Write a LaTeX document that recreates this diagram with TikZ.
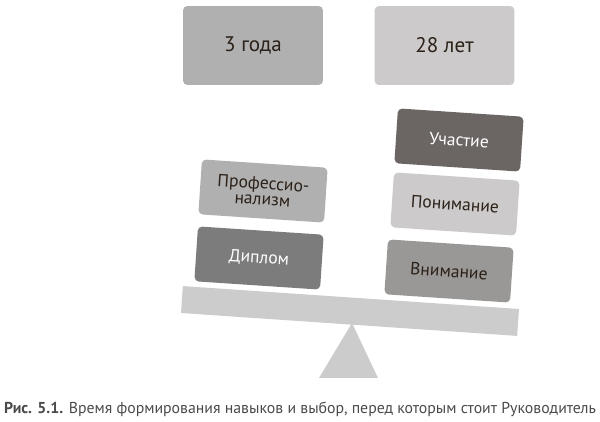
\documentclass[tikz,border=0pt]{standalone}
\usepackage{fontspec}
\setmainfont{PT Sans}
\usepackage{tikz}
\usetikzlibrary{positioning}

\definecolor{boxlight}{HTML}{B0B0B0}
\definecolor{boxpale}{HTML}{CCCACA}
\definecolor{boxdark}{HTML}{7C7C7C}
\definecolor{boxdeep}{HTML}{6B6563}
\definecolor{boxmid}{HTML}{9A9897}
\definecolor{beamgray}{HTML}{CCCCCC}
\definecolor{inkbrown}{HTML}{2B2118}
\definecolor{captiongray}{HTML}{4A4A4A}

\tikzset{
  topbox/.style={rounded corners=2.5pt, minimum width=2.8cm, minimum height=1.58cm,
    text=inkbrown, font=\fontsize{12}{14}\selectfont},
  weightbox/.style={rounded corners=2.5pt, minimum width=2.52cm, minimum height=1.1cm,
    rotate=-3.8, align=center, inner sep=0pt, font=\fontsize{10}{9}\selectfont},
}

\begin{document}
\begin{tikzpicture}[x=0.02cm, y=-0.02cm]
    \useasboundingbox (0,0) rectangle (600,422);

    % time to build the skills
    \node[topbox, fill=boxlight] (years3) at (253,45.5) {3 года};
    \node[topbox, fill=boxpale] (years28) at (444.5,45.5) {28 лет};

    % the scale
    \node[fill=beamgray, minimum width=6.74cm, minimum height=0.54cm,
          inner sep=0pt, rotate=-3.9] (beam) at (350,311) {};
    \fill[beamgray] (352,323) -- (378,378) -- (319,378) -- cycle;

    % left pan
    \node[weightbox, fill=boxdark, text=white] (diploma) at (259,258) {Диплом};
    \node[weightbox, fill=boxlight, text=inkbrown] (profi) at (263,191) {Профессио-\\нализм};

    % right pan
    \node[weightbox, fill=boxmid, text=inkbrown] (attention) at (449,271) {Внимание};
    \node[weightbox, fill=boxpale, text=inkbrown] (understanding) at (455,204) {Понимание};
    \node[weightbox, fill=boxdeep, text=white] (participation) at (459,140) {Участие};

    % caption
    \node[anchor=base, inner sep=0pt, text=captiongray, font=\fontsize{9}{11}\selectfont]
      (caption) at (300,414)
      {\textbf{Рис. 5.1.} Время формирования навыков и выбор, перед которым стоит Руководитель};
\end{tikzpicture}
\end{document}
